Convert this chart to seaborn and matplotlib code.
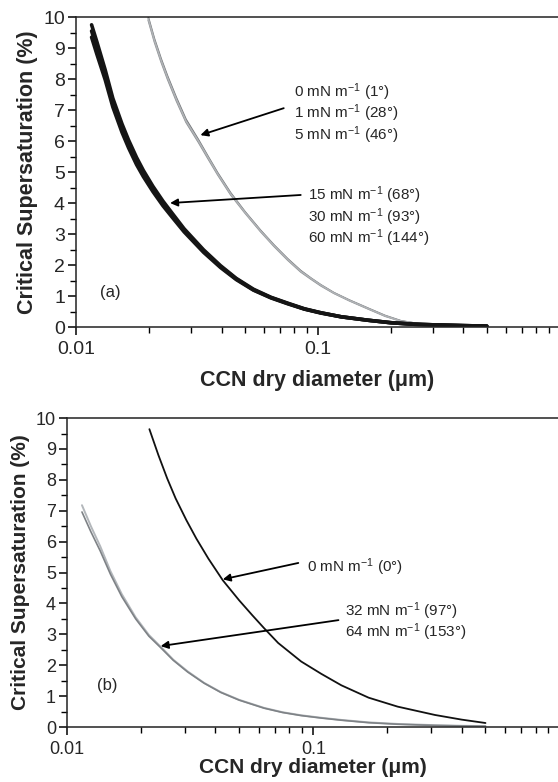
import numpy as np
import pandas as pd
import seaborn as sns
import matplotlib.pyplot as plt
from matplotlib.ticker import MultipleLocator, LogLocator, FixedLocator, NullFormatter

# panel (a), values
d_a_dark = [0.0116, 0.0122, 0.0132, 0.0142, 0.0155, 0.0165, 0.0178, 0.019, 0.0208,
            0.0229, 0.025, 0.028, 0.0337, 0.0396, 0.046, 0.0542, 0.064, 0.0751,
            0.088, 0.103, 0.125, 0.161, 0.2, 0.25, 0.303, 0.4, 0.5]
s_a_15 = [9.75, 9.2, 8.3, 7.38, 6.55, 6.03, 5.47, 5.05, 4.54, 4.06, 3.67, 3.17, 2.49,
          1.98, 1.57, 1.22, 0.96, 0.77, 0.59, 0.46, 0.33, 0.22, 0.14, 0.09, 0.07, 0.045, 0.03]
s_a_30 = [9.55, 9.0, 8.15, 7.25, 6.42, 5.9, 5.35, 4.95, 4.45, 3.98, 3.6, 3.12, 2.45,
          1.95, 1.55, 1.2, 0.95, 0.76, 0.58, 0.46, 0.33, 0.22, 0.14, 0.09, 0.07, 0.045, 0.03]
s_a_60 = [9.35, 8.8, 7.98, 7.1, 6.28, 5.78, 5.24, 4.85, 4.37, 3.91, 3.54, 3.07, 2.41,
          1.92, 1.53, 1.19, 0.94, 0.75, 0.58, 0.45, 0.33, 0.22, 0.14, 0.09, 0.07, 0.045, 0.03]

d_a_grey = [0.0199, 0.0211, 0.0225, 0.0239, 0.026, 0.0285, 0.0321, 0.035, 0.0385,
            0.0436, 0.05, 0.058, 0.066, 0.0751, 0.085, 0.094, 0.103, 0.1165, 0.135,
            0.161, 0.19, 0.221, 0.26, 0.303, 0.4, 0.5]
s_a_0 = [10.0, 9.3, 8.65, 8.1, 7.4, 6.7, 6.04, 5.53, 4.98, 4.33, 3.72, 3.12, 2.64,
         2.2, 1.82, 1.57, 1.36, 1.11, 0.87, 0.61, 0.37, 0.2, 0.11, 0.08, 0.05, 0.03]
s_a_1 = [9.95, 9.25, 8.6, 8.05, 7.35, 6.65, 6.0, 5.5, 4.95, 4.3, 3.7, 3.1, 2.62,
         2.18, 1.8, 1.56, 1.35, 1.1, 0.86, 0.6, 0.36, 0.19, 0.11, 0.08, 0.05, 0.03]
s_a_5 = [9.9, 9.2, 8.55, 8.0, 7.3, 6.61, 5.96, 5.46, 4.92, 4.27, 3.68, 3.08, 2.6,
         2.16, 1.78, 1.54, 1.33, 1.09, 0.85, 0.59, 0.35, 0.19, 0.11, 0.08, 0.05, 0.03]

# panel (b)
d_b_black = [0.0216, 0.0235, 0.0255, 0.0276, 0.0305, 0.0335, 0.0375, 0.0429, 0.05,
             0.0565, 0.0631, 0.072, 0.0893, 0.1078, 0.13, 0.1677, 0.22, 0.312, 0.4, 0.5]
s_b_0 = [9.64, 8.8, 8.05, 7.4, 6.7, 6.1, 5.45, 4.75, 4.1, 3.62, 3.2, 2.72, 2.12,
         1.72, 1.35, 0.95, 0.66, 0.39, 0.24, 0.13]

d_b_grey = [0.0115, 0.0125, 0.01364, 0.015, 0.01669, 0.019, 0.0215, 0.024, 0.027,
            0.0309, 0.036, 0.0421, 0.05, 0.0631, 0.075, 0.0893, 0.1078, 0.13, 0.168,
            0.22, 0.312, 0.4, 0.5]
s_b_32 = [7.18, 6.5, 5.85, 5.05, 4.3, 3.55, 2.98, 2.6, 2.18, 1.8, 1.43, 1.13, 0.88,
          0.62, 0.48, 0.38, 0.3, 0.23, 0.15, 0.1, 0.06, 0.04, 0.03]
s_b_64 = [6.96, 6.32, 5.7, 4.95, 4.22, 3.5, 2.94, 2.57, 2.16, 1.78, 1.42, 1.12, 0.87,
          0.61, 0.47, 0.37, 0.29, 0.22, 0.14, 0.09, 0.05, 0.035, 0.025]

sns.set_theme(style="ticks")
plt.rcParams['font.family'] = ['Liberation Sans', 'DejaVu Sans']
plt.rcParams['mathtext.fontset'] = 'custom'
plt.rcParams['mathtext.rm'] = 'Liberation Sans'
plt.rcParams['mathtext.it'] = 'Liberation Sans:italic'
plt.rcParams['axes.linewidth'] = 1.1

fig = plt.figure(figsize=(5.58, 7.82), dpi=100)
ax1 = fig.add_axes([0.1362, 0.5818, 0.8638, 0.3964])
ax2 = fig.add_axes([0.1201, 0.0703, 0.8799, 0.3951])


def style_axis(ax, fs, lab_fs, xpad):
    ax.set_xscale('log')
    ax.set_xlim(0.01, 0.985)
    ax.set_ylim(0, 10)
    ax.xaxis.set_major_locator(FixedLocator([0.01, 0.1]))
    ax.set_xticklabels(['0.01', '0.1'])
    ax.xaxis.set_minor_locator(LogLocator(base=10, subs=np.arange(2, 10)))
    ax.xaxis.set_minor_formatter(NullFormatter())
    ax.yaxis.set_major_locator(MultipleLocator(1))
    ax.yaxis.set_minor_locator(MultipleLocator(0.5))
    ax.tick_params(which='major', direction='out', length=6, width=1.1,
                   labelsize=fs, color='black', pad=2)
    ax.tick_params(axis='x', which='major', pad=4)
    ax.tick_params(which='minor', direction='out', length=4, width=1.0, color='black')
    ax.spines['right'].set_visible(False)
    for s in ['left', 'bottom', 'top']:
        ax.spines[s].set_color('#222222')
    ax.set_ylabel('Critical Supersaturation (%)', fontsize=lab_fs,
                  fontweight='bold', labelpad=4)
    ax.set_xlabel('CCN dry diameter (μm)', fontsize=lab_fs,
                  fontweight='bold', labelpad=xpad)


# panel (a)
for s, c in [(s_a_0, '#6f7275'), (s_a_5, '#8c8f92'), (s_a_1, '#b0b3b6')]:
    sns.lineplot(x=d_a_grey, y=s, ax=ax1, color=c, lw=1.2, sort=False, estimator=None)
for s in [s_a_15, s_a_30, s_a_60]:
    sns.lineplot(x=d_a_dark, y=s, ax=ax1, color='#151515', lw=2.6, sort=False, estimator=None)
style_axis(ax1, 14, 15.5, 9)

arrow = dict(arrowstyle='-|>', color='black', lw=1.3, mutation_scale=11,
             shrinkA=0, shrinkB=0)
ax1.annotate('', xy=(0.0327, 6.19), xytext=(0.0723, 7.06), arrowprops=arrow)
for txt, y in [('0 mN m$^{-1}$ (1°)', 7.58), ('1 mN m$^{-1}$ (28°)', 6.9),
               ('5 mN m$^{-1}$ (46°)', 6.19)]:
    ax1.text(0.0795, y, txt, fontsize=11, va='center', ha='left')
ax1.annotate('', xy=(0.0245, 4.0), xytext=(0.085, 4.26), arrowprops=arrow)
for txt, y in [('15 mN m$^{-1}$ (68°)', 4.26), ('30 mN m$^{-1}$ (93°)', 3.55),
               ('60 mN m$^{-1}$ (144°)', 2.87)]:
    ax1.text(0.0909, y, txt, fontsize=11, va='center', ha='left')
ax1.text(0.01384, 1.1, '(a)', fontsize=12, va='center', ha='center')

# panel (b)
sns.lineplot(x=d_b_grey, y=s_b_32, ax=ax2, color='#b3b7bb', lw=1.4, sort=False, estimator=None)
sns.lineplot(x=d_b_grey, y=s_b_64, ax=ax2, color='#7e8286', lw=1.2, sort=False, estimator=None)
sns.lineplot(x=d_b_black, y=s_b_0, ax=ax2, color='#111111', lw=1.3, sort=False, estimator=None)
style_axis(ax2, 13, 15, 0)

ax2.annotate('', xy=(0.0429, 4.78), xytext=(0.0869, 5.31), arrowprops=arrow)
ax2.text(0.0945, 5.18, '0 mN m$^{-1}$ (0°)', fontsize=11, va='center', ha='left')
ax2.annotate('', xy=(0.024, 2.62), xytext=(0.1265, 3.46), arrowprops=arrow)
for txt, y in [('32 mN m$^{-1}$ (97°)', 3.75), ('64 mN m$^{-1}$ (153°)', 3.07)]:
    ax2.text(0.135, y, txt, fontsize=11, va='center', ha='left')
ax2.text(0.01457, 1.36, '(b)', fontsize=12, va='center', ha='center')

fig.savefig('out.png', dpi=100)
